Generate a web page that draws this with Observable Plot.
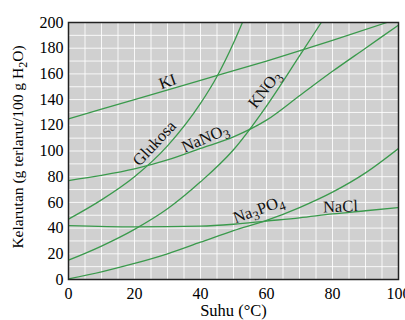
<!DOCTYPE html>
<html><head><meta charset="utf-8">
<script src="https://cdn.jsdelivr.net/npm/d3@7"></script>
<script src="https://cdn.jsdelivr.net/npm/@observablehq/plot@0.6"></script>
<style>body{margin:0;background:#fff}</style>
</head><body><div id="chart"></div>
<script>
// Solubility (g / 100 g H2O) vs temperature (°C)
const kiT = [0, 20, 40, 60, 80, 96.5];
const kiS = [125, 140, 155, 170, 186, 200];
const glukosaT = [0, 10, 20, 30, 40, 45, 50, 52.7];
const glukosaS = [47, 62, 80, 104, 137, 158, 184, 200];
const nano3T = [0, 10, 20, 30, 40, 50, 60, 70, 80, 90, 100];
const nano3S = [77, 81, 86, 93, 102, 111, 124, 143, 162, 180, 198];
const kno3T = [0, 10, 20, 30, 40, 50, 60, 70, 76.6];
const kno3S = [15, 26, 39, 55, 76, 101, 135, 174, 200];
const na3po4T = [0, 10, 20, 30, 40, 50, 60, 70, 80, 90, 100];
const na3po4S = [0.5, 6, 12.5, 20, 29, 38, 46, 56, 68, 83, 102];
const naclT = [0, 20, 40, 50, 60, 70, 80, 90, 100];
const naclS = [42, 41, 41.5, 43, 45.5, 48, 51, 53.5, 56];

const seriesNames = ["KI", "Glukosa", "NaNO₃", "KNO₃", "Na₃PO₄", "NaCl"];
const seriesT = [kiT, glukosaT, nano3T, kno3T, na3po4T, naclT];
const seriesS = [kiS, glukosaS, nano3S, kno3S, na3po4S, naclS];

// curve label anchors in data units
const labelT = [30, 26, 41.4, 59.4, 57.6, 82.4];
const labelS = [154, 106, 110, 148, 54.5, 56.8];
const labelAngle = [-20, -47, -23, -52, -20, -2];

const xTicks = [0, 20, 40, 60, 80, 100];
const yTicks = [0, 20, 40, 60, 80, 100, 120, 140, 160, 180, 200];

const rows = seriesNames.flatMap((n, k) => seriesT[k].map((t, i) => ({name: n, t, s: seriesS[k][i]})));
const labels = seriesNames.map((n, k) => ({name: n, t: labelT[k], s: labelS[k], a: labelAngle[k]}));

const serif = "'Liberation Serif', 'Times New Roman', serif";
const chart = Plot.plot({
  width: 405, height: 320,
  marginLeft: 68, marginRight: 7, marginTop: 22, marginBottom: 41,
  style: {fontFamily: serif, fontSize: "16px", background: "#fff", overflow: "visible"},
  x: {domain: [0, 100]},
  y: {domain: [0, 200]},
  marks: [
    Plot.frame({fill: "#d0d0d0", stroke: "none"}),
    Plot.gridX({ticks: d3.range(0, 101, 5), stroke: "#fff", strokeOpacity: 0.85, strokeWidth: 1}),
    Plot.gridY({ticks: d3.range(0, 201, 10), stroke: "#fff", strokeOpacity: 0.85, strokeWidth: 1}),
    Plot.line(rows, {x: "t", y: "s", z: "name", curve: "monotone-x", stroke: "#3a9a4c", strokeWidth: 1.3, clip: true}),
    Plot.text(labels, {x: "t", y: "s", text: "name", rotate: "a", fontSize: 16.5, fontFamily: serif, fill: "#111"}),
    Plot.frame({stroke: "#222", strokeWidth: 1.5}),
    Plot.axisX({ticks: xTicks, tickSize: 0, tickPadding: 8, label: null, fontSize: 16}),
    Plot.axisY({ticks: yTicks, tickSize: 0, tickPadding: 5, label: null, fontSize: 16}),
    Plot.text(["Suhu (°C)"], {frameAnchor: "bottom", dy: 31, lineAnchor: "middle", textAnchor: "middle", fontSize: 16.5, fontFamily: serif}),
    Plot.text(["Kelarutan (g terlarut/100 g H₂O)"], {frameAnchor: "left", dx: -50, dy: -4, rotate: -90, lineAnchor: "middle", textAnchor: "middle", fontSize: 15.5, fontFamily: serif})
  ]
});

// render unicode subscript digits as lowered tspans (text stays text)
const SVGNS = "http://www.w3.org/2000/svg";
chart.querySelectorAll("text").forEach(el => {
  const s = el.textContent;
  if (!/[\u2080-\u2089]/.test(s) || el.children.length) return;
  el.textContent = "";
  let shifted = false;
  s.match(/[\u2080-\u2089]+|[^\u2080-\u2089]+/g).forEach(p => {
    const ts = document.createElementNS(SVGNS, "tspan");
    if (/[\u2080-\u2089]/.test(p)) {
      ts.textContent = p.replace(/[\u2080-\u2089]/g, c => String.fromCharCode(c.charCodeAt(0) - 0x2080 + 48));
      ts.setAttribute("dy", "4");
      ts.setAttribute("font-size", "0.78em");
      shifted = true;
    } else {
      ts.textContent = p;
      if (shifted) { ts.setAttribute("dy", "-4"); shifted = false; }
    }
    el.appendChild(ts);
  });
});
document.getElementById("chart").append(chart);
</script>
</body></html>
